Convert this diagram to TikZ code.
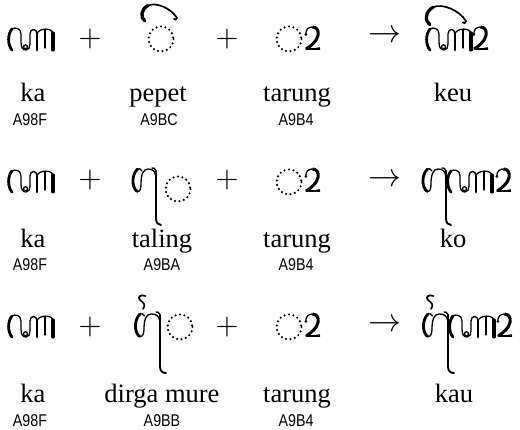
\documentclass[tikz,border=0pt]{standalone}
\usepackage{fontspec}
\setmainfont{Liberation Serif}
\newfontfamily\hexfont{Liberation Sans}
\begin{document}
\begin{tikzpicture}[x=1pt,y=-1pt,
 jthick/.style={line width=2.8pt,line cap=round},
 jmid/.style={line width=1.9pt,line cap=round},
 jthin/.style={line width=1.3pt,line cap=round},
 dotc/.style={line width=2.4pt,dash pattern=on 0pt off 4.5pt,line cap=round},
 lbl/.style={font=\fontsize{26.5}{26.5}\selectfont,anchor=base,inner sep=0pt},
 hex/.style={font=\hexfont\fontsize{17}{17}\selectfont,anchor=base,inner sep=0pt,xscale=0.84},
 op/.style={inner sep=0pt,scale=3},
 arr/.style={inner sep=0pt,scale=3.3},
 ka/.pic={
  \draw[jthick] (3,-21) .. controls (-1.5,-16) and (-1.5,-5) .. (3,0);
  \draw[jthin] (3,-21) .. controls (6,-23) and (12,-22) .. (12,-16) -- (12,-8) .. controls (12,-2) and (14,0) .. (17,0) .. controls (20,0) and (21,-3) .. (21,-6) -- (21,-16) .. controls (21,-22) and (28,-22) .. (28,-16);
  \draw[jthin] (16.5,-3.2) circle (2);
  \draw[jthick] (28,-17) -- (28,0);
  \draw[jthin] (28,-16) .. controls (29,-22) and (44,-23) .. (44,-16);
  \draw[line width=3.1pt,line cap=round] (44,-17) -- (44,0);
  \draw[jthin] (36,-20) -- (36,-2);
 },
 pepet/.pic={
  \draw[line width=3.3pt,line cap=round] (-16,-18) .. controls (-21,-21) and (-20,-30) .. (-13,-33.5);
  \draw[line width=1.7pt,line cap=round] (-13,-33.5) .. controls (-5,-37) and (10,-31) .. (16,-21) .. controls (15.5,-19) and (14,-19) .. (13,-20);
 },
 tarung/.pic={
  \draw[jthin] (1.8,-15.5) .. controls (1.5,-21) and (5,-23) .. (8.5,-23);
  \draw[line width=3pt] (8.5,-23) .. controls (12.5,-23) and (15,-20) .. (14,-14.5) .. controls (13,-9) and (7,-4) .. (2.2,-1);
  \draw[jthin] (2,-0.9) -- (15.5,-0.9);
  \draw[line width=2.4pt] (12.5,-1.1) -- (16,-1.6);
  \fill (1.8,-15.5) circle (1.5);
 },
 taling/.pic={
  \draw[jthick] (4.5,-23) .. controls (-1.5,-17) and (-1.5,-5) .. (4,-0.5);
  \draw[jthin] (4,-0.5) .. controls (7,0) and (8,-3) .. (8,-8) .. controls (8,-17) and (10,-23) .. (15,-23) .. controls (19,-23) and (22,-21) .. (22.5,-17);
  \draw[jthin] (4.5,-23) .. controls (6,-24) and (8,-23) .. (9,-21);
  \draw[jthick] (23,-21) -- (23,26);
  \draw[jmid] (23,26) .. controls (23,31) and (25,33) .. (28,33);
  \draw[jthin] (23,-21) .. controls (22.5,-23.5) and (20.5,-24.5) .. (19,-24);
 },
 dirga/.pic={
  \draw[jthick] (5,-23) .. controls (-1,-17) and (-1,-5) .. (4.5,-0.5);
  \draw[jthin] (4.5,-0.5) .. controls (7.5,0) and (9,-3) .. (9,-8) .. controls (9,-17) and (11,-23) .. (16,-23) .. controls (21,-23) and (24,-21) .. (24.5,-17);
  \draw[jthin] (5,-23) .. controls (6.5,-24) and (8.5,-23) .. (9.5,-21);
  \draw[jthick] (25,-22) -- (25,29);
  \draw[jmid] (25,29) .. controls (25,34) and (27,36) .. (31,36);
  \draw[jthin] (25,-22) .. controls (24.5,-24.5) and (22.5,-25.5) .. (21,-25);
  \draw[line width=1.7pt,line cap=round] (10.5,-41) .. controls (6,-43) and (2,-40) .. (5,-37) .. controls (9,-34) and (11,-32) .. (8,-28);
 },
]
\useasboundingbox (0,0) rectangle (520,430);

% ---------- row 1 ----------
\pic at (9,50) {ka};
\node[op] (p11) at (90,39) {$+$};
\draw[dotc] (161,39) circle (12.5);
\pic at (161,39) {pepet};
\node[op] (p12) at (227,39) {$+$};
\draw[dotc] (289,39) circle (12.5);
\pic at (304,50) {tarung};
\node[arr] (a1) at (385,36) {$\rightarrow$};
\pic at (427,50) {ka};
\pic[scale=1.13] at (448,45) {pepet};
\pic at (472,50) {tarung};

\node[lbl] (l11) at (33,102) {ka};
\node[lbl] (l12) at (158,102) {pepet};
\node[lbl] (l13) at (297,102) {tarung};
\node[lbl] (l14) at (453,102) {keu};
\node[hex] (h11) at (30,126) {A98F};
\node[hex] (h12) at (159,126) {A9BC};
\node[hex] (h13) at (296,126) {A9B4};

% ---------- row 2 ----------
\pic at (9,192) {ka};
\node[op] (p21) at (90,180) {$+$};
\pic at (133,192) {taling};
\draw[dotc] (178,189) circle (12.5);
\node[op] (p22) at (227,180) {$+$};
\draw[dotc] (289,182) circle (12.5);
\pic at (304,192) {tarung};
\node[arr] (a2) at (385,180) {$\rightarrow$};
\pic at (423,192) {taling};
\pic at (448,192) {ka};
\pic at (495,192) {tarung};

\node[lbl] (l21) at (33,248) {ka};
\node[lbl] (l22) at (162,248) {taling};
\node[lbl] (l23) at (297,248) {tarung};
\node[lbl] (l24) at (453,248) {ko};
\node[hex] (h21) at (30,271) {A98F};
\node[hex] (h22) at (162,271) {A9BA};
\node[hex] (h23) at (296,271) {A9B4};

% ---------- row 3 ----------
\pic at (9,337) {ka};
\node[op] (p31) at (90,327) {$+$};
\pic at (135,337) {dirga};
\draw[dotc] (180,327) circle (12.5);
\node[op] (p32) at (227,327) {$+$};
\draw[dotc] (289,327) circle (12.5);
\pic at (304,337) {tarung};
\node[arr] (a3) at (385,325) {$\rightarrow$};
\pic at (423,337) {dirga};
\pic at (450,337) {ka};
\pic at (496,337) {tarung};

\node[lbl] (l31) at (33,403) {ka};
\node[lbl] (l32) at (162,403) {dirga mure};
\node[lbl] (l33) at (297,403) {tarung};
\node[lbl] (l34) at (454,403) {kau};
\node[hex] (h31) at (30,427) {A98F};
\node[hex] (h32) at (162,427) {A9BB};
\node[hex] (h33) at (296,427) {A9B4};
\end{tikzpicture}
\end{document}
